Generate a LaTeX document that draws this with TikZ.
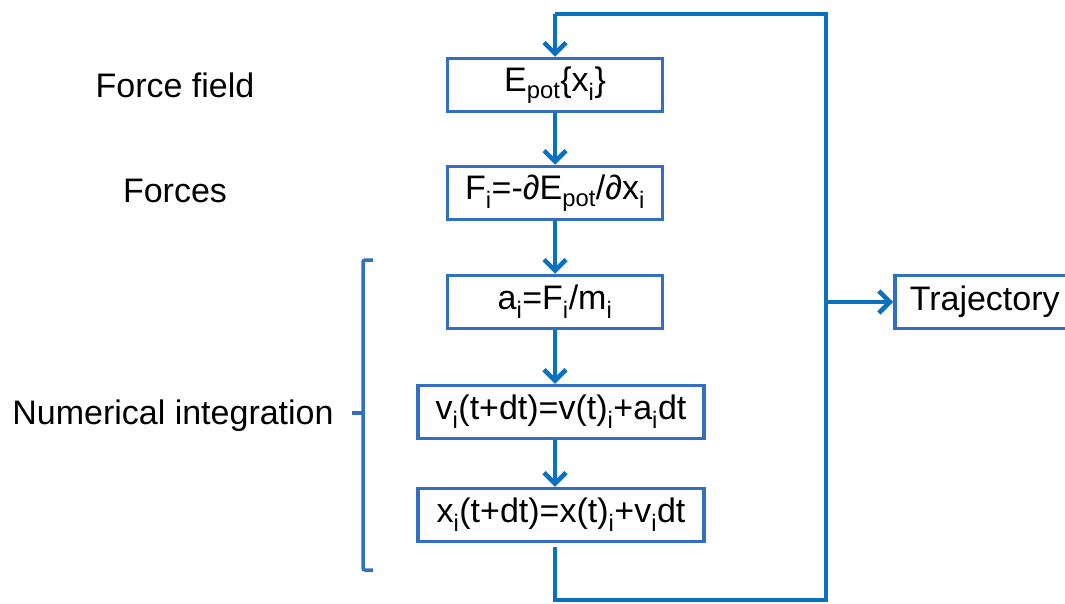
\documentclass[tikz,border=0pt]{standalone}
\usepackage{fontspec}
\setmainfont{Liberation Sans}
\usetikzlibrary{arrows.meta}
\definecolor{FlowBlue}{RGB}{10,112,192}
\definecolor{BoxBlue}{RGB}{52,110,192}
\newcommand{\sbs}[1]{\textsubscript{#1}}

\begin{document}
\begin{tikzpicture}[x=1pt, y=-1pt, font=\fontsize{34}{41}\selectfont,
    box/.style={draw=BoxBlue, line width=3.5pt, minimum height=53pt, inner sep=6pt},
    flow/.style={draw=FlowBlue, line width=4.5pt, -{Straight Barb[length=11pt, width=22pt]}},
    wire/.style={draw=FlowBlue, line width=4.5pt}]

\useasboundingbox (0,0) rectangle (1065,603);

% steps of the loop
\node[box, minimum width=215pt] (epot) at (555,85) {E\sbs{pot}\{x\sbs{i}\}};
\node[box, minimum width=215pt] (force) at (555,193) {F\sbs{i}=-∂E\sbs{pot}/∂x\sbs{i}};
\node[box, minimum width=215pt] (acc) at (555,302) {a\sbs{i}=F\sbs{i}/m\sbs{i}};
\node[box, minimum width=286pt] (vel) at (561,412) {v\sbs{i}(t+dt)=v(t)\sbs{i}+a\sbs{i}dt};
\node[box, minimum width=286pt] (pos) at (561,515) {x\sbs{i}(t+dt)=x(t)\sbs{i}+v\sbs{i}dt};
\node[box, anchor=west, inner xsep=13pt, minimum width=190pt, text width=160pt]
    (traj) at (893,302) {Trajectory};

% labels on the left
\node (lff) at (175,85) {Force field};
\node (lf) at (175,191) {Forces};
\node (lni) at (173,416) {Numerical integration};

% bracket
\draw[BoxBlue, line width=3.5pt, rounded corners=2pt]
    (373,260) -- (363,260) -- (363,570) -- (373,570);
\draw[BoxBlue, line width=3.5pt] (363,413) -- (352,413);

% arrows down the column
\draw[flow] (epot) -- (force);
\draw[flow] (force) -- (acc);
\draw[flow] (acc.south) -- (acc.south |- vel.north);
\draw[flow] (acc.south |- vel.south) -- (acc.south |- pos.north);

% feedback loop
\coordinate (cbl) at (555,600);
\coordinate (cbr) at (826,600);
\coordinate (ctr) at (826,14);
\coordinate (ctl) at (555,14);
\draw[wire, shorten <=4pt] (acc.south |- pos.south) -- (cbl) -- (cbr) -- (ctr) -- (ctl);
\draw[flow] (ctl) -- (epot.north);
\draw[flow] (ctr |- traj.west) -- (traj.west);

\end{tikzpicture}
\end{document}
